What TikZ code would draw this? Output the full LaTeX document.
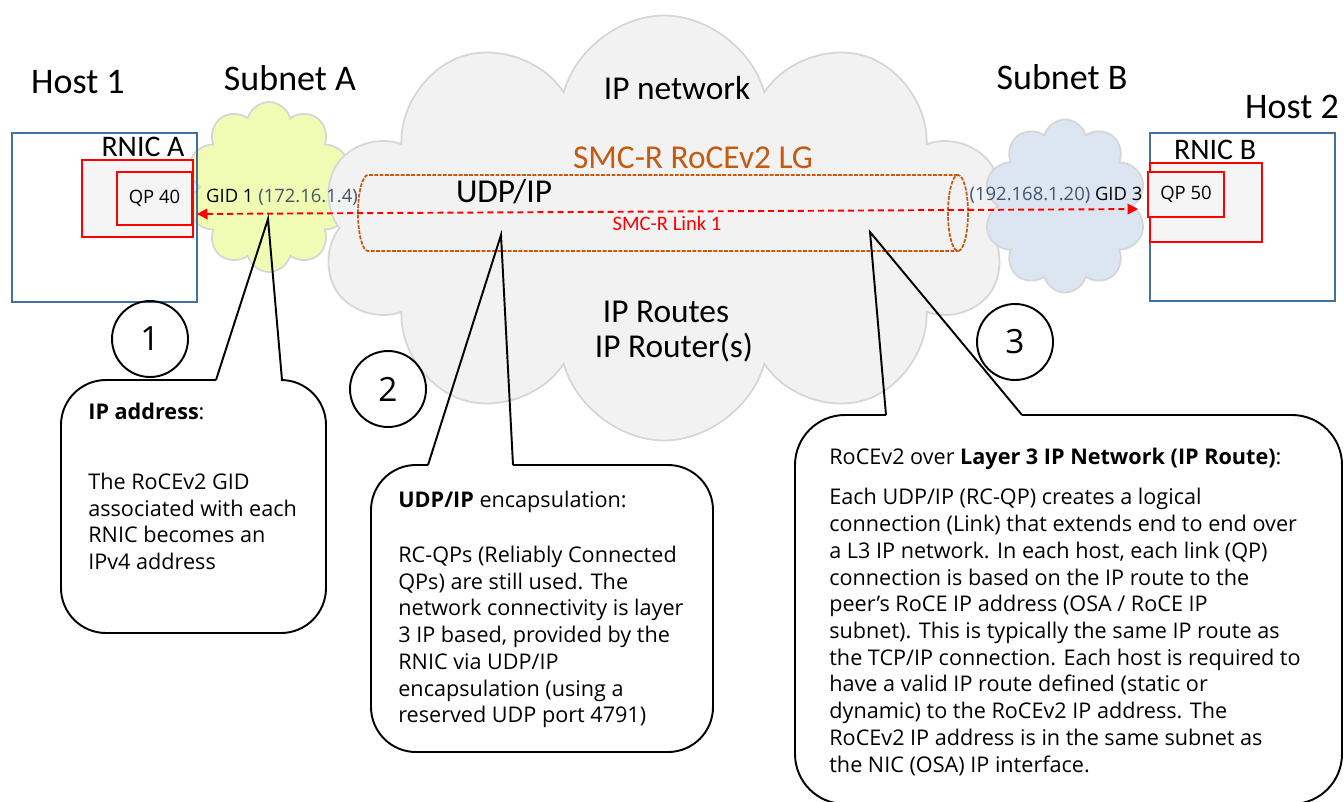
\documentclass[tikz,border=0pt]{standalone}
\usepackage{fontspec}
\setmainfont{Carlito}
\newfontfamily\plexfont{Open Sans}
\usetikzlibrary{shapes.symbols,arrows.meta}

\definecolor{cloudgray}{HTML}{F2F2F2}
\definecolor{cloudline}{HTML}{D6D6D6}
\definecolor{subnetA}{HTML}{F0FCB4}
\definecolor{subnetB}{HTML}{DCE6F2}
\definecolor{hostblue}{HTML}{41719C}
\definecolor{lgorange}{HTML}{C55A11}
\definecolor{gidgray}{HTML}{44546A}
\definecolor{qpfill}{HTML}{F5F5F5}

\newcommand{\bigtxt}{\fontsize{20.5}{24}\selectfont}
\newcommand{\midtxt}{\fontsize{17}{20}\selectfont}
\newcommand{\nettxt}{\fontsize{19}{22}\selectfont}
\newcommand{\linktxt}{\fontsize{11.7}{14}\selectfont}
\newcommand{\smalltxt}{\plexfont\fontsize{10.5}{13}\selectfont}
\newcommand{\notetxt}{\plexfont\fontsize{12.3}{15.2}\selectfont}
\newcommand{\numtxt}{\plexfont\fontsize{19}{22}\selectfont}

\begin{document}
\begin{tikzpicture}[x=0.02cm, y=-0.02cm,
	net/.style={cloud, cloud puffs=11, cloud ignores aspect, draw=cloudline, line width=1pt, inner sep=0pt},
	hostbox/.style={draw=hostblue, line width=1.1pt, minimum width=3.7cm, minimum height=3.37cm},
	rnicbox/.style={draw=red, line width=1.1pt, fill=qpfill},
	qpbox/.style={draw=red, line width=1.6pt, fill=qpfill, font=\smalltxt},
	title/.style={font=\bigtxt},
	tube/.style={draw=lgorange, line width=1pt, dash pattern=on 2.2pt off 0.8pt},
	link/.style={red, line width=1.1pt, dash pattern=on 3.4pt off 2.3pt, {Triangle[length=6pt,width=6pt]}-{Triangle[length=6pt,width=6pt]}},
	balloon/.style={draw, line width=1.1pt, rounded corners=0.9cm},
	pointer/.style={draw, line width=1.1pt},
	note/.style={anchor=north west, inner sep=0pt, align=left, font=\notetxt},
	num/.style={circle, draw, line width=1.1pt, minimum size=1.52cm, inner sep=0pt, font=\numtxt}]
	\useasboundingbox (0,0) rectangle (1344,801);
	% clouds
	\node[net, fill=subnetA, cloud puffs=10, minimum width=3.3cm, minimum height=3.4cm] (subA) at (269,187) {};
	\node[net, fill=cloudgray, cloud puffs=10, minimum width=13.7cm, minimum height=8.5cm] (ipnet) at (664,228) {};
	\node[net, fill=subnetB, cloud puffs=10, minimum width=3.25cm, minimum height=3.46cm] (subB) at (1065,206) {};
	% RoCEv2 link group tube
	\draw[tube] (958,175) -- (368,175) arc[start angle=-90, end angle=-270, x radius=10, y radius=38] -- (958,251);
	\draw[tube] (958,213) ellipse[x radius=10, y radius=38];
	% hosts
	\node[hostbox] (host1) at (104.5,217.5) {};
	\node[hostbox] (host2) at (1242.5,217) {};
	\node[rnicbox, minimum width=2.22cm, minimum height=1.54cm] (rnicA) at (137.5,198.5) {};
	\node[qpbox, minimum width=1.5cm, minimum height=1.06cm] (qpA) at (154.5,198.5) {QP 40};
	\node[rnicbox, minimum width=2.24cm, minimum height=1.58cm] (rnicB) at (1206,202.5) {};
	\node[qpbox, minimum width=1.52cm, minimum height=0.9cm] (qpB) at (1186,194.5) {QP 50};
	\draw[link, shorten <=0.06cm, shorten >=0.22cm] ([yshift=-0.31cm]rnicA.east) -- ([yshift=-0.13cm]rnicB.west);
	% labels
	\node[title] (h1) at (78,82) {Host 1};
	\node[title] (sa) at (290,78) {Subnet A};
	\node[title] (sb) at (1062,77) {Subnet B};
	\node[title] (h2) at (1292,107) {Host 2};
	\node[font=\midtxt] (ra) at (143,147) {RNIC A};
	\node[font=\midtxt] (rb) at (1215,150) {RNIC B};
	\node[font=\nettxt] (ipn) at (677,88) {IP network};
	\node[font=\nettxt, text=lgorange] (lg) at (693,158) {SMC-R RoCEv2 LG};
	\node[font=\nettxt] (udp) at (504,192) {UDP/IP};
	\node[font=\linktxt, text=red] (lk) at (667,223) {SMC-R Link 1};
	\node[font=\nettxt] (rts) at (666,312) {IP Routes};
	\node[font=\nettxt] (rtr) at (674,348) {IP Router(s)};
	\node[font=\smalltxt] (gid1) at (282,197) {GID 1 \textcolor{gidgray}{(172.16.1.4)}};
	\node[font=\smalltxt] (gid3) at (1056,195) {\textcolor{gidgray}{(192.168.1.20)} GID 3};
	% callouts
	\coordinate (tip1) at (268,219);
	\coordinate (tip2) at (501,235);
	\coordinate (tip3) at (870,232);
	\filldraw[balloon, fill=white] (216,380) -- (61,380) -- (61,633) -- (326,633) -- (326,380) -- (282,380);
	\draw[pointer] (216,380) -- (tip1) -- (282,380);
	\filldraw[balloon, fill=white] (428,465) -- (371,465) -- (371,752) -- (713,752) -- (713,465) -- (513,465);
	\draw[pointer] (428,465) -- (tip2) -- (513,465);
	\filldraw[balloon, fill=white, rounded corners=1cm] (886,415) -- (795,415) -- (795,804) -- (1342,804) -- (1342,415) -- (1022,415);
	\draw[pointer] (886,415) -- (tip3) -- (1022,415);
	\node[note] (note1) at (88,403) {\textbf{IP address}:\\[0.86cm] The RoCEv2 GID\\ associated with each\\ RNIC becomes an\\ IPv4 address};
	\node[note] (note2) at (398,491) {\textbf{UDP/IP} encapsulation:\\[0.56cm] RC-QPs (Reliably Connected\\ QPs) are still used. The\\ network connectivity is layer\\ 3 IP based, provided by the\\ RNIC via UDP/IP\\ encapsulation (using a\\ reserved UDP port 4791)};
	\node[note] (note3) at (829,448) {RoCEv2 over \textbf{Layer 3 IP Network (IP Route)}:\\[0.27cm] Each UDP/IP (RC-QP) creates a logical\\ connection (Link) that extends end to end over\\ a L3 IP network. In each host, each link (QP)\\ connection is based on the IP route to the\\ peer’s RoCE IP address (OSA / RoCE IP\\ subnet). This is typically the same IP route as\\ the TCP/IP connection. Each host is required to\\ have a valid IP route defined (static or\\ dynamic) to the RoCEv2 IP address. The\\ RoCEv2 IP address is in the same subnet as\\ the NIC (OSA) IP interface.};
	% step numbers
	\node[num] (n1) at (150,339) {1};
	\node[num] (n2) at (388,389) {2};
	\node[num] (n3) at (1015,342) {3};
\end{tikzpicture}
\end{document}
